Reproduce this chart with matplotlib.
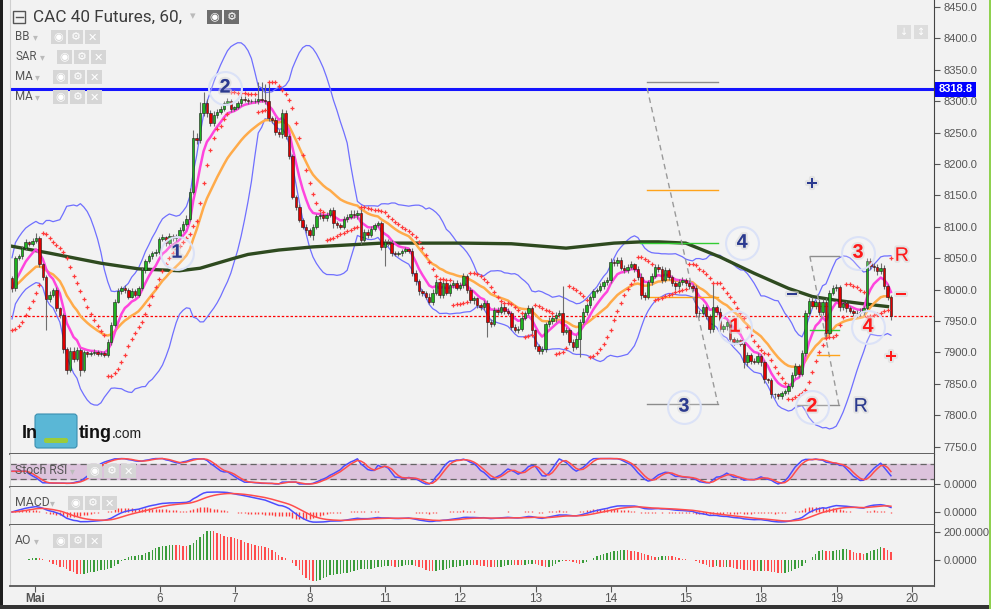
import numpy as np
import pandas as pd
import matplotlib
matplotlib.use("Agg")
import matplotlib.pyplot as plt
from matplotlib.patches import Rectangle, FancyBboxPatch
import matplotlib.patheffects as pe

plt.rcParams['font.family'] = ['Liberation Sans', 'DejaVu Sans']

# CAC 40 futures, 60 min candles (4 May - 19 May)
first_open = 8018
closes = [
    8002, 8050, 8053, 8066, 8075, 8073, 8078, 8082, 8040, 8020,
    7985, 7992, 8000, 7970, 7960, 7905, 7872, 7903, 7890, 7904,
    7872, 7900, 7898, 7899, 7901, 7898, 7899, 7896, 7917, 7944,
    7981, 7997, 8003, 7999, 7989, 7998, 7992, 8002, 8031, 8045,
    8053, 8058, 8060, 8080, 8083, 8074, 8086, 8082, 8085, 8095,
    8105, 8113, 8156, 8241, 8238, 8281, 8297, 8281, 8265, 8278,
    8283, 8288, 8297, 8300, 8288, 8290, 8297, 8304, 8302, 8300,
    8301, 8300, 8303, 8302, 8300, 8273, 8270, 8251, 8247, 8281,
    8244, 8212, 8148, 8132, 8111, 8100, 8095, 8087, 8100, 8117,
    8119, 8114, 8119, 8126, 8106, 8103, 8100, 8113, 8116, 8121,
    8118, 8122, 8079, 8092, 8087, 8097, 8103, 8106, 8068, 8076,
    8074, 8058, 8057, 8058, 8062, 8064, 8062, 8026, 8013, 7997,
    7995, 7989, 7981, 7995, 8012, 7992, 8010, 7995, 8007, 8011,
    8003, 8007, 8021, 7999, 7983, 7986, 7975, 7972, 7978, 7949,
    7946, 7968, 7965, 7973, 7966, 7963, 7941, 7936, 7938, 7955,
    7962, 7970, 7935, 7910, 7902, 7905, 7945, 7950, 7954, 7960,
    7962, 7933, 7936, 7917, 7909, 7922, 7949, 7965, 7975, 7988,
    7997, 8000, 8006, 8012, 8015, 8044, 8042, 8047, 8035, 8031,
    8036, 8040, 8033, 8020, 7991, 7989, 8012, 8022, 8036, 8033,
    8016, 8031, 8020, 8010, 8005, 8012, 8016, 8010, 8005, 8002,
    7962, 7963, 7972, 7958, 7937, 7972, 7965, 7937, 7942, 7948,
    7922, 7917, 7919, 7914, 7884, 7896, 7887, 7885, 7895, 7884,
    7857, 7856, 7833, 7833, 7830, 7835, 7838, 7847, 7864, 7878,
    7866, 7899, 7963, 7982, 7974, 7980, 7964, 7981, 7931, 7995,
    8002, 8004, 7972, 7978, 7970, 7966, 7963, 7962, 7965, 7970,
    8046, 8037, 8036, 8030, 8034, 8005, 7989, 7958,
]
wick_up = [
    3, 4, 3, 4, 5, 3, 4, 8, 4, 3,
    4, 5, 3, 4, 3, 3, 4, 6, 5, 4,
    3, 4, 3, 3, 4, 3, 3, 3, 4, 5,
    4, 5, 3, 4, 3, 5, 3, 4, 5, 4,
    4, 3, 5, 4, 5, 3, 4, 3, 4, 4,
    4, 5, 6, 13, 8, 18, 18, 6, 5, 6,
    4, 5, 4, 5, 4, 3, 4, 5, 4, 3,
    3, 4, 27, 28, 25, 30, 4, 5, 4, 6,
    5, 4, 4, 3, 4, 3, 4, 3, 5, 4,
    4, 3, 5, 4, 6, 4, 3, 4, 5, 6,
    5, 4, 6, 4, 5, 4, 3, 4, 4, 5,
    4, 5, 3, 4, 3, 4, 3, 4, 5, 4,
    4, 3, 5, 6, 5, 4, 5, 4, 3, 4,
    4, 5, 6, 4, 5, 4, 3, 4, 6, 5,
    4, 5, 4, 6, 4, 5, 3, 4, 4, 5,
    4, 5, 4, 3, 4, 5, 4, 6, 5, 4,
    5, 43, 4, 3, 4, 5, 4, 5, 4, 3,
    4, 3, 5, 4, 5, 6, 4, 5, 5, 4,
    4, 5, 3, 4, 6, 5, 4, 5, 4, 5,
    4, 5, 4, 3, 4, 5, 4, 3, 5, 4,
    5, 4, 5, 4, 3, 38, 4, 5, 4, 3,
    4, 3, 4, 3, 5, 4, 3, 4, 4, 3,
    4, 3, 4, 3, 3, 4, 3, 5, 4, 5,
    4, 5, 4, 5, 6, 4, 5, 4, 6, 5,
    6, 5, 4, 3, 4, 4, 3, 4, 5, 4,
    5, 4, 6, 4, 8, 5, 4, 3,
]
wick_dn = [
    6, 4, 3, 4, 3, 4, 3, 4, 4, 5,
    49, 4, 3, 4, 5, 6, 6, 4, 5, 4,
    10, 4, 5, 3, 3, 4, 3, 4, 4, 5,
    4, 3, 4, 5, 4, 3, 4, 4, 3, 4,
    3, 4, 5, 4, 3, 4, 3, 4, 4, 3,
    4, 3, 4, 4, 6, 4, 5, 6, 5, 4,
    4, 3, 4, 3, 5, 4, 3, 4, 4, 4,
    3, 3, 4, 4, 4, 5, 4, 5, 4, 5,
    4, 4, 4, 5, 4, 4, 5, 4, 8, 4,
    4, 5, 4, 4, 8, 5, 4, 4, 5, 4,
    4, 5, 6, 4, 5, 4, 3, 4, 5, 31,
    4, 5, 4, 3, 4, 3, 4, 4, 5, 6,
    5, 4, 4, 5, 4, 6, 5, 4, 5, 4,
    4, 3, 5, 4, 5, 6, 4, 5, 4, 24,
    6, 4, 5, 4, 5, 4, 5, 4, 5, 4,
    4, 3, 6, 5, 5, 4, 5, 4, 4, 5,
    4, 5, 4, 5, 6, 4, 29, 4, 5, 4,
    4, 3, 4, 5, 4, 4, 5, 4, 4, 5,
    4, 4, 5, 4, 6, 5, 4, 4, 4, 5,
    5, 4, 5, 4, 6, 4, 4, 5, 4, 4,
    6, 5, 4, 5, 6, 4, 5, 4, 5, 6,
    4, 5, 4, 4, 9, 6, 5, 4, 4, 5,
    6, 5, 5, 6, 4, 4, 3, 4, 4, 5,
    5, 4, 5, 4, 4, 5, 4, 4, 6, 4,
    4, 5, 6, 5, 5, 4, 5, 6, 4, 5,
    4, 5, 6, 6, 5, 4, 5, 6,
]

# long moving average (dark green), read at a few candles
ma_long_idx = [0, 11, 26, 37, 49, 55, 65, 69, 78, 88, 108, 132, 146, 162,
               176, 184, 189, 197, 207, 217, 227, 234, 241, 248, 256]
ma_long_val = [8069, 8058, 8042, 8033, 8030, 8034, 8050, 8056, 8063, 8068,
               8074, 8074, 8073, 8066, 8074, 8076, 8076, 8074, 8052, 8026,
               8002, 7989, 7983, 7978, 7973]

day_labels = ['Mai', '6', '7', '8', '11', '12', '13', '14', '15', '18', '19', '20']
day_ticks = [6.7, 43.3, 65.2, 87.1, 109.1, 131.0, 153.2, 175.1, 197.1, 219.0, 241.2, 263.2]

resistance = 8318.8

# elliott wave / fibo annotation lines: (x0, x1, y0, y1, colour, dashed)
wave_lines = [
    (185.7, 206.4, 8330, 8330, '#8c8c8c', False),
    (185.7, 206.4, 8159, 8159, '#ffa31a', False),
    (183.6, 206.4, 8074, 8074, '#33cc33', False),
    (185.7, 206.4, 7988, 7988, '#ffa31a', False),
    (185.7, 206.4, 7818, 7818, '#8c8c8c', False),
    (185.7, 206.4, 8321, 7818, '#9a9a9a', True),
    (233.3, 241.8, 8053, 8053, '#8c8c8c', False),
    (233.3, 241.8, 8053, 7816, '#9a9a9a', True),
    (233.9, 238.3, 7974, 7974, '#ffa31a', False),
    (233.3, 241.8, 7936, 7936, '#33cc33', False),
    (235.4, 241.8, 7896, 7896, '#ffa31a', False),
    (229.5, 241.8, 7816, 7816, '#8c8c8c', False),
]
BLUE_T, RED_T = '#2b3a8f', '#ff1a1a'
# (x, y, text, colour, bold, circle)
wave_text = [
    (48.2, 8058, '1', BLUE_T, True, True),
    (62.3, 8321, '2', BLUE_T, True, True),
    (196.5, 7813, '3', BLUE_T, True, True),
    (213.5, 8074, '4', BLUE_T, True, True),
    (233.9, 8167, '+', BLUE_T, True, False),
    (228.0, 7990, '\u2212', BLUE_T, True, False),
    (248.2, 7813, 'R', BLUE_T, False, False),
    (211.4, 7940, '1', RED_T, True, True),
    (233.9, 7813, '2', RED_T, True, True),
    (247.4, 8058, '3', RED_T, True, True),
    (250.3, 7940, '4', RED_T, True, True),
    (260.2, 8053, 'R', RED_T, False, False),
    (260.0, 7990, '\u2212', RED_T, True, False),
    (257.0, 7891, '+', RED_T, True, False),
]

BG = '#f2f2f2'
W, H = 991, 609

# ---------- price data ----------
x = np.arange(len(closes))
c = np.array(closes, float)
o = np.r_[first_open, c[:-1]]
high = np.maximum(o, c) + np.array(wick_up)
low = np.minimum(o, c) - np.array(wick_dn)
cs = pd.Series(c)

# ---------- indicators ----------
mid = cs.rolling(20, min_periods=1).mean()
sd = cs.rolling(20, min_periods=8).std(ddof=0).bfill()
bb_up, bb_dn = mid + 2 * sd, mid - 2 * sd
ma_fast = cs.ewm(span=7, adjust=False).mean()
ma_mid = cs.ewm(span=20, adjust=False).mean()


def psar(hi, lo, step=0.02, amax=0.2):
    sar = np.zeros(len(hi))
    up, af, ep = True, step, hi[0]
    sar[0] = lo[0] - 60
    for i in range(1, len(hi)):
        s = sar[i - 1] + af * (ep - sar[i - 1])
        if up:
            s = min(s, lo[i - 1], lo[max(i - 2, 0)])
            if lo[i] < s:
                up, s, ep, af = False, ep, lo[i], step
            elif hi[i] > ep:
                ep, af = hi[i], min(af + step, amax)
        else:
            s = max(s, hi[i - 1], hi[max(i - 2, 0)])
            if hi[i] > s:
                up, s, ep, af = True, ep, hi[i], step
            elif lo[i] < ep:
                ep, af = lo[i], min(af + step, amax)
        sar[i] = s
    return sar


sar = psar(high, low)

delta = cs.diff().fillna(0)
gain = delta.clip(lower=0).ewm(alpha=1 / 14, adjust=False).mean()
loss = (-delta.clip(upper=0)).ewm(alpha=1 / 14, adjust=False).mean()
rsi = 100 - 100 / (1 + gain / loss.replace(0, np.nan))
rsi = rsi.fillna(100)
rlo = rsi.rolling(14, min_periods=1).min()
rhi = rsi.rolling(14, min_periods=1).max()
stoch = ((rsi - rlo) / (rhi - rlo).replace(0, np.nan) * 100).fillna(50)
st_k = stoch.rolling(5, min_periods=1).mean()
st_d = st_k.rolling(3, min_periods=1).mean()

macd = cs.ewm(span=12, adjust=False).mean() - cs.ewm(span=26, adjust=False).mean()
signal = macd.ewm(span=9, adjust=False).mean()
hist = macd - signal

med = pd.Series((high + low) / 2)
ao = med.rolling(5, min_periods=1).mean() - med.rolling(34, min_periods=1).mean()
ao_up = ao.diff().fillna(0) >= 0

# ---------- figure ----------
fig = plt.figure(figsize=(W / 100, H / 100), dpi=100, facecolor=BG)
XL = ((10 - 12) / 3.42, (934 - 12) / 3.42)


def panel(top, bottom):
    return fig.add_axes([10 / W, 1 - bottom / H, 924 / W, (bottom - top) / H])


def style(a, ylim):
    a.set_facecolor(BG)
    a.set_xlim(XL)
    a.set_ylim(ylim)
    a.spines['top'].set_visible(False)
    a.spines['left'].set_color('#cfcfcf')
    a.spines['right'].set_color('#444444')
    a.spines['bottom'].set_color('#555555')
    a.spines['bottom'].set_linewidth(1.3)
    a.yaxis.tick_right()
    a.tick_params(axis='y', direction='out', length=4, colors='#555555',
                  labelsize=8, pad=3)
    a.set_xticks([])


ax = panel(0, 454)
ax_st = panel(454, 487)
ax_md = panel(487, 525)
ax_ao = panel(525, 586)

# main panel
style(ax, (8450 - 447 * 1.5924, 8450 + 7 * 1.5924))
ax.set_yticks(np.arange(7750, 8451, 50))
ax.yaxis.set_major_formatter(matplotlib.ticker.FormatStrFormatter('%.1f'))

ax.axhline(resistance, color='#1414ff', lw=2.2, zorder=2)
ax.axhline(c[-1], color='#ff0000', lw=0.9, ls=(0, (2, 1.5)), zorder=2)

ax.plot(x, bb_up, color='#6f6fff', lw=0.9, zorder=2)
ax.plot(x, bb_dn, color='#6f6fff', lw=0.9, zorder=2)
ax.plot(ma_long_idx, ma_long_val, color='#2e4a1f', lw=2.4, zorder=2)
ax.plot(x, ma_mid, color='#ffab4a', lw=1.8, zorder=2)
ax.plot(x, ma_fast, color='#ff44dd', lw=1.8, zorder=2)

for x0, x1, y0, y1, col, dashed in wave_lines:
    ax.plot([x0, x1], [y0, y1], color=col, lw=1,
            ls=(0, (4, 3)) if dashed else '-', zorder=2)

rising = c >= o
ax.vlines(x, low, high, color='#6e6e6e', lw=0.8, zorder=3)
ax.bar(x, np.maximum(np.abs(c - o), 0.8), bottom=np.minimum(o, c), width=0.72,
       color=np.where(rising, '#1fb21f', '#e00000'), edgecolor='#1a1a1a',
       lw=0.4, zorder=4)
ax.scatter(x, sar, marker='+', s=9, color='#ff3b3b', lw=0.9, zorder=5)

for tx, ty, t, col, bold, circ in wave_text:
    if circ:
        ax.scatter([tx], [ty], s=560, facecolor=(1, 1, 1, 0.2),
                   edgecolor='#dbe2f7', lw=1.5, zorder=6)
    ax.text(tx, ty, t, color=col, fontsize=14, ha='center', va='center',
            fontweight='bold' if bold else 'normal', zorder=7,
            path_effects=[pe.withStroke(linewidth=3, foreground=(0.85, 0.85, 0.85, 0.6))])

# stoch RSI
style(ax_st, (-12, 118))
ax_st.axhspan(20, 80, color='#dcc3dc', zorder=0)
ax_st.axhline(20, color='#666666', lw=0.9, ls=(0, (5, 3)), zorder=1)
ax_st.axhline(80, color='#666666', lw=0.9, ls=(0, (5, 3)), zorder=1)
ax_st.plot(x, st_k, color='#4d4dff', lw=1.1, zorder=2)
ax_st.plot(x, st_d, color='#ff4d4d', lw=1.1, zorder=2)
ax_st.set_yticks([0], ['0.0000'])

# MACD
mscale = macd.max() / 20
style(ax_md, (-13 * mscale, 25 * mscale))
ax_md.vlines(x, 0, hist, color='#ff3b3b', lw=1.0, zorder=1)
ax_md.plot(x, macd, color='#4d4dff', lw=1.1, zorder=2)
ax_md.plot(x, signal, color='#ff4d4d', lw=1.1, zorder=2)
ax_md.set_yticks([0], ['0.0000'])

# AO
style(ax_ao, (-186, 250))
ax_ao.bar(x, ao, width=0.42, color=np.where(ao_up, '#3a9c3a', '#ff4d4d'), zorder=2)
ax_ao.set_yticks([0, 200], ['0.0000', '200.0000'])
ax_ao.set_xticks(day_ticks, day_labels)
ax_ao.tick_params(axis='x', direction='out', length=4, colors='#555555',
                  labelsize=8.5, pad=1)
ax_ao.get_xticklabels()[0].set_fontweight('bold')

# ---------- overlay: titles, icons, watermark ----------
ov = fig.add_axes([0, 0, 1, 1], zorder=10)
ov.set_xlim(0, W)
ov.set_ylim(H, 0)
ov.axis('off')
ov.patch.set_alpha(0)

glyphs = ['\u25c9', '\u2699', '\u2715']


def icons(x0, yc, n, fc):
    for i in range(n):
        ov.add_patch(Rectangle((x0 + i * 17, yc - 7), 15, 14, color=fc, lw=0))
        ov.text(x0 + i * 17 + 7.5, yc + 0.5, glyphs[i], color='white', fontsize=8,
                ha='center', va='center', family='DejaVu Sans')


ov.add_patch(Rectangle((13, 11), 12, 12, fill=False, ec='#555555', lw=1))
ov.plot([15.5, 22.5], [17, 17], color='#555555', lw=1)
ov.text(33, 17, 'CAC 40 Futures, 60,', fontsize=12.3, color='#3c3c3c',
        va='center', family='Roboto')
ov.text(190, 16, '\u25be', fontsize=8, color='#bbbbbb', va='center', family='DejaVu Sans')
icons(207, 17, 2, '#6e6e6e')

for name, yc, cx, bx in [('BB', 37, 33, 51), ('SAR', 57, 40, 57),
                         ('MA', 77, 35, 53), ('MA', 97, 35, 53)]:
    ov.text(15, yc, name, fontsize=8.3, color='#555555', va='center', family='Roboto')
    ov.text(cx, yc, '\u25be', fontsize=7, color='#bbbbbb', va='center', family='DejaVu Sans')
    icons(bx, yc, 3, '#d6d6d6')

for name, yc, cx, bx in [('Stoch RSI', 471, 70, 87), ('MACD', 503, 50, 68),
                         ('AO', 541, 34, 53)]:
    ov.text(15, yc, name, fontsize=8.8, color='#555555', va='center', family='Roboto')
    ov.text(cx, yc, '\u25be', fontsize=7, color='#bbbbbb', va='center', family='DejaVu Sans')
    icons(bx, yc, 3, '#d6d6d6')

# top right buttons
for bx, g in [(897, '\u2193'), (914, '\u2195')]:
    ov.add_patch(Rectangle((bx, 25), 14, 14, color='#dddddd', lw=0))
    ov.text(bx + 7, 32, g, color='white', fontsize=7, ha='center', va='center',
            family='DejaVu Sans')

# price tag of the horizontal line
ov.add_patch(Rectangle((935, 82), 41, 15, color='#0000ff', lw=0))
ov.text(955.5, 89.5, '%.1f' % resistance, color='white', fontsize=8,
        fontweight='bold', ha='center', va='center')

# watermark
ov.text(22, 433, 'In', fontsize=13, fontweight='bold', color='#111111', va='center')
ov.add_patch(FancyBboxPatch((35, 414), 42, 34, boxstyle='round,pad=0,rounding_size=3',
                            fc='#5ab7d6', ec='#3a8fb0', lw=0.8))
ov.add_patch(FancyBboxPatch((44, 438), 24, 5, boxstyle='round,pad=0,rounding_size=2',
                            fc='#9ccc3a', ec='none'))
ov.text(79, 433, 'ting', fontsize=13, fontweight='bold', color='#111111', va='center')
ov.text(112, 434, '.com', fontsize=10, color='#222222', va='center')

# window borders
ov.add_patch(Rectangle((0, 0), 3, H, color='#1e1e1e', lw=0))
ov.add_patch(Rectangle((0, 605), W, 4, color='#333333', lw=0))
ov.add_patch(Rectangle((989, 0), 2, H, color='#8fd14f', lw=0))

fig.savefig('out.png', dpi=100, facecolor=BG)
